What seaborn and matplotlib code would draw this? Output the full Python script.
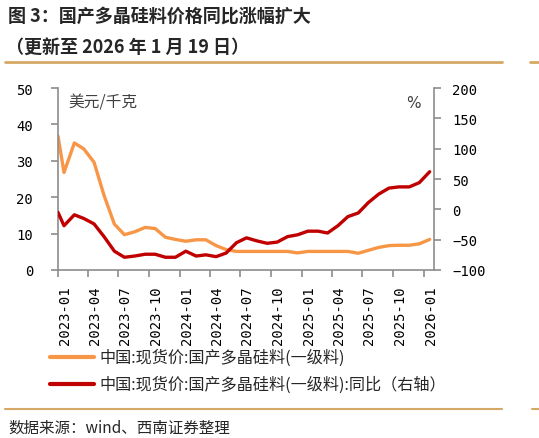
import numpy as np
import pandas as pd
import matplotlib
matplotlib.use('Agg')
import matplotlib.pyplot as plt
import matplotlib.dates as mdates
from matplotlib.lines import Line2D
import seaborn as sns

### data (monthly, ~19th of each month)
dates = ['2023-01-01'] + [f'{y}-{m:02d}-19' for y in (2023, 2024, 2025) for m in range(1, 13)] + ['2026-01-19']

price = [36.8, 26.8, 34.9, 33.3, 29.6, 20.5, 12.6, 9.7, 10.5, 11.7, 11.4, 9.0, 8.4,
         7.9, 8.3, 8.3, 6.7, 5.6, 5.1, 5.1, 5.1, 5.1, 5.1, 5.1, 4.7,
         5.1, 5.1, 5.1, 5.1, 5.1, 4.6, 5.4, 6.2, 6.7, 6.8, 6.8, 7.2,
         8.4]

yoy = [-5, -27, -9, -15, -24, -45, -69, -79, -77, -74, -74, -79, -79,
       -69, -77, -75, -78, -72, -55, -47, -52, -56, -54, -45, -42,
       -36, -36, -39, -27, -12, -6, 11, 25, 35, 37, 37, 44,
       62]

tick_labels = ['2023-01', '2023-04', '2023-07', '2023-10', '2024-01', '2024-04', '2024-07',
               '2024-10', '2025-01', '2025-04', '2025-07', '2025-10', '2026-01']

label_price = '中国:现货价:国产多晶硅料(一级料)'
label_yoy = '中国:现货价:国产多晶硅料(一级料):同比（右轴）'

df = pd.DataFrame({'date': pd.to_datetime(dates), 'price': price, 'yoy': yoy})

sns.set_style('white')
plt.rcParams['font.family'] = ['Noto Sans CJK SC', 'DejaVu Sans']

ORANGE = '#F79646'
RED = '#C00000'
GRAY = '#8C8C8C'
TAN = '#D6A865'

W, H = 539, 439
fig = plt.figure(figsize=(W / 100, H / 100), dpi=100)
ax = fig.add_axes([58 / W, 1 - 271 / H, (434 - 58) / W, (271 - 89) / H])

sns.lineplot(data=df, x='date', y='price', ax=ax, color=ORANGE, lw=2.4, legend=False)
ax2 = ax.twinx()
sns.lineplot(data=df, x='date', y='yoy', ax=ax2, color=RED, lw=2.4, legend=False)

ax.set_xlim(pd.Timestamp('2023-01-01'), pd.Timestamp('2026-02-01'))
ax.set_ylim(0, 50)
ax2.set_ylim(-100, 200)
ax.set_yticks(range(0, 51, 10))
ax2.set_yticks(range(-100, 201, 50))

ticks = pd.to_datetime([t + '-01' for t in tick_labels])
ax.set_xticks(ticks)
ax.set_xticklabels(tick_labels, rotation=90, ha='left')

for a in (ax, ax2):
    a.set_xlabel('')
    a.set_ylabel('')
    for s in a.spines.values():
        s.set_visible(False)
ax.spines['left'].set_visible(True)
ax.spines['bottom'].set_visible(True)
ax2.spines['right'].set_visible(True)
for s in (ax.spines['left'], ax.spines['bottom'], ax2.spines['right']):
    s.set_color(GRAY)
    s.set_linewidth(1.2)

ax.tick_params(axis='y', direction='out', length=5, width=1.2, color=GRAY, pad=13,
               labelsize=10, labelfontfamily='DejaVu Sans Mono', labelcolor='black', left=True)
ax.tick_params(axis='x', direction='out', length=5, width=1.2, color=GRAY, pad=6,
               labelsize=10, labelfontfamily='DejaVu Sans Mono', labelcolor='black', bottom=True)
ax2.tick_params(axis='y', direction='out', length=5, width=1.2, color=GRAY, pad=8,
                labelsize=10, labelfontfamily='DejaVu Sans Mono', labelcolor='black', right=True)

ax.text(68 / W, 1 - 103 / H, '美元/千克', transform=fig.transFigure, fontsize=11.3,
        color='#404040', va='center', ha='left')
ax.text(413 / W, 1 - 104 / H, '%', transform=fig.transFigure, fontsize=11,
        color='#404040', va='center', ha='center', family='DejaVu Sans')

# legend below the plot
handles = [Line2D([], [], color=ORANGE, lw=3), Line2D([], [], color=RED, lw=3)]
fig.legend(handles, [label_price, label_yoy], loc='upper left',
           bbox_to_anchor=(50 / W, 1 - 350 / H), frameon=False, fontsize=11.6,
           handlelength=2.7, handletextpad=0.35, labelspacing=0.6,
           borderpad=0, borderaxespad=0, labelcolor='#262626')

# title block and source
fig.text(8 / W, 1 - 16 / H, '图 3：国产多晶硅料价格同比涨幅扩大', fontsize=13,
         fontweight='bold', va='center', ha='left')
fig.text(6 / W, 1 - 47 / H, '（更新至 2026 年 1 月 19 日）', fontsize=13,
         fontweight='bold', va='center', ha='left')
fig.add_artist(Line2D([5 / W, 502 / W], [1 - 63 / H] * 2, color=TAN, lw=2, transform=fig.transFigure))
fig.add_artist(Line2D([530 / W, 1], [1 - 63 / H] * 2, color=TAN, lw=2, transform=fig.transFigure))
fig.add_artist(Line2D([5 / W, 502 / W], [1 - 410 / H] * 2, color=TAN, lw=1.5, transform=fig.transFigure))
fig.add_artist(Line2D([532 / W, 1], [1 - 410 / H] * 2, color=TAN, lw=1.5, transform=fig.transFigure))
fig.text(8 / W, 1 - 428 / H, '数据来源：wind、西南证券整理', fontsize=11.2,
         style='italic', color='#262626', va='center', ha='left')

fig.savefig('out.png', dpi=100)
